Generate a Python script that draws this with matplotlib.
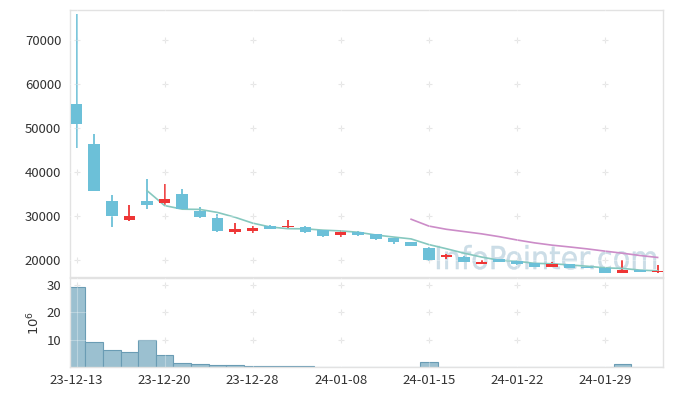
import matplotlib
matplotlib.use('Agg')
import matplotlib.pyplot as plt
import numpy as np
import pandas as pd
from matplotlib.textpath import TextPath
from matplotlib.patches import PathPatch
from matplotlib.font_manager import FontProperties
from matplotlib.transforms import Affine2D

plt.rcParams['font.family'] = ['Noto Sans CJK KR', 'DejaVu Sans']

# trading days
dates = ["2023-12-13", "2023-12-14", "2023-12-15", "2023-12-18", "2023-12-19",
         "2023-12-20", "2023-12-21", "2023-12-22", "2023-12-26", "2023-12-27",
         "2023-12-28", "2024-01-02", "2024-01-03", "2024-01-04", "2024-01-05",
         "2024-01-08", "2024-01-09", "2024-01-10", "2024-01-11", "2024-01-12",
         "2024-01-15", "2024-01-16", "2024-01-17", "2024-01-18", "2024-01-19",
         "2024-01-22", "2024-01-23", "2024-01-24", "2024-01-25", "2024-01-26",
         "2024-01-29", "2024-01-30", "2024-01-31", "2024-02-01"]
opens = [55400, 46250, 33450, 29000, 33300, 32850, 35050, 31000, 29600, 26250,
         26650, 27600, 27400, 27550, 26700, 25650, 26300, 25850, 25000, 24100,
         22750, 20700, 20750, 19150, 20150, 19850, 19250, 18350, 19000, 18200,
         18250, 17100, 17700, 17250]
highs = [75900, 48550, 34700, 32400, 38400, 37300, 36200, 32000, 30450, 28400,
         27700, 28000, 29000, 27600, 26700, 26700, 26550, 25900, 25050, 24150,
         23000, 21300, 20800, 20000, 20300, 19900, 19300, 19400, 19050, 18250,
         18400, 20000, 17750, 18800]
lows = [45500, 35600, 27450, 28750, 31650, 32550, 31450, 29600, 26400, 25950,
        26100, 26900, 27100, 26000, 25200, 25200, 25500, 24400, 23700, 23050,
        19750, 20150, 19550, 19100, 19550, 18900, 18300, 18300, 18200, 18050,
        17000, 16900, 17150, 17100]
closes = [50900, 35600, 29900, 29900, 32400, 33900, 31500, 29650, 26450, 26900,
          27250, 27100, 27750, 26250, 25400, 26400, 25550, 24650, 23950, 23250,
          20000, 20800, 19600, 19550, 19600, 18950, 18350, 19100, 18250, 18100,
          17100, 17700, 17200, 17400]
# volume in millions
volumes = [29.4, 9.1, 6.2, 5.8, 9.85, 4.4, 1.8, 1.1, 0.85, 0.8,
           0.45, 0.4, 0.4, 0.4, 0.05, 0.05, 0.05, 0.05, 0.05, 0.05,
           1.9, 0.35, 0.35, 0.05, 0.3, 0.05, 0.3, 0.05, 0.05, 0.05,
           0.05, 1.1, 0.05, 0.3]

tick_idx = [0, 5, 10, 15, 20, 25, 30]
price_ticks = [20000, 30000, 40000, 50000, 60000, 70000]
vol_ticks = [10, 20, 30]

UP = '#ee3535'
DOWN = '#6cc0d8'
VOL_FACE = '#9bc0d0'
VOL_EDGE = '#6a9cb4'
MA5_COLOR = '#86c8bf'
MA20_COLOR = '#cc8cc8'
SPINE = '#e2e2e2'
TXT = '#333333'

x = np.arange(len(dates))
o = np.array(opens, dtype=float)
c = np.array(closes, dtype=float)
ma5 = pd.Series(c).rolling(5).mean()
ma20 = pd.Series(c).rolling(20).mean()

fig = plt.figure(figsize=(6.73, 3.96), dpi=100)
ax = fig.add_axes([0.1033, 0.3005, 0.8817, 0.6742])
axv = fig.add_axes([0.1033, 0.0720, 0.8817, 0.2260], sharex=ax)

# watermark
tp = TextPath((0, 0), "InfoPointer.com", size=1, prop=FontProperties(family='DejaVu Sans'))
bb = tp.get_extents()
wm_tr = Affine2D().translate(-bb.x0, -bb.y0).scale(219 / bb.width, 24.5 / bb.height).translate(437, 396 - 269.5)
ax.add_patch(PathPatch(tp, transform=wm_tr, facecolor='#c3d8e3', edgecolor='#c3d8e3',
                       linewidth=0.3, alpha=0.85, zorder=0.5))

# candles
colors = [UP if c[i] >= o[i] else DOWN for i in range(len(x))]
ax.vlines(x, lows, highs, colors=colors, linewidth=1.3, zorder=2)
body = np.maximum(np.abs(c - o), 300)
bottoms = np.minimum(o, c)
ax.bar(x, body, bottom=bottoms, width=0.66, color=colors, zorder=3)

ax.plot(x, ma5, color=MA5_COLOR, linewidth=1.2, zorder=2.5)
ax.plot(x, ma20, color=MA20_COLOR, linewidth=1.2, zorder=2.5)

ax.set_xlim(-0.4, 33.3)
ax.set_ylim(16100, 76800)
ax.set_yticks(price_ticks)
ax.set_yticklabels([str(t) for t in price_ticks])
ax.tick_params(axis='x', labelbottom=False, length=0)
ax.tick_params(axis='y', length=0, pad=6, labelsize=9.5, labelcolor=TXT)

# volume
axv.bar(x, volumes, width=1.0, color=VOL_FACE, edgecolor=VOL_EDGE, linewidth=0.8, zorder=2)
axv.set_ylim(0, 32.5)
axv.set_yticks(vol_ticks)
axv.set_yticklabels([str(t) for t in vol_ticks])
axv.set_ylabel('$10^6$', fontsize=9.5, color=TXT, labelpad=3)
axv.set_xticks(tick_idx)
axv.set_xticklabels([pd.Timestamp(dates[i]).strftime('%y-%m-%d') for i in tick_idx])
axv.tick_params(length=0, pad=5, labelsize=9.5, labelcolor=TXT)
axv.tick_params(axis='y', pad=6)

for a, yt in [(ax, price_ticks), (axv, vol_ticks)]:
    for s in a.spines.values():
        s.set_color(SPINE)
        s.set_linewidth(1)
    gx, gy = np.meshgrid(tick_idx, yt)
    a.plot(gx.ravel(), gy.ravel(), '+', color='#dcdcdc', markersize=4, markeredgewidth=0.8, zorder=1)
    a.grid(True, color='white', alpha=0.3, linewidth=0.8)
    a.set_axisbelow(False)

fig.savefig('out.png', dpi=100)
